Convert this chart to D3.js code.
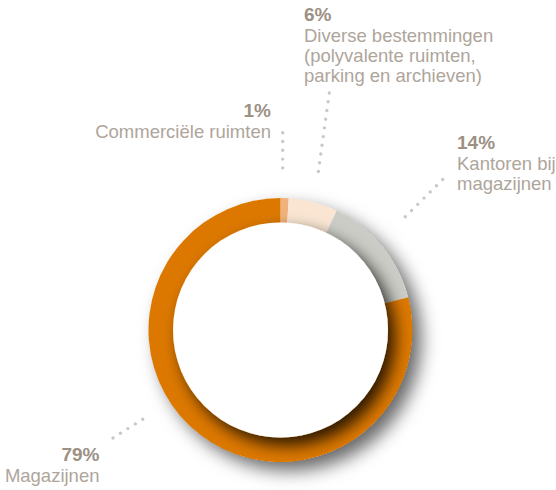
<!doctype html>
<html lang="nl">
<head>
<meta charset="utf-8">
<script src="https://d3js.org/d3.v7.min.js"></script>
<style>
  body { margin: 0; background: #fff; }
  svg { display: block; }
  .pct { font-family: "Liberation Sans", Arial, sans-serif; font-weight: bold; font-size: 19px; fill: #9c9184; }
  .lbl { font-family: "Liberation Sans", Arial, sans-serif; font-size: 18.5px; fill: #aea59b; }
  .lead { stroke: #cac8c4; stroke-width: 3.4; stroke-linecap: round; stroke-dasharray: 0 8.8; fill: none; }
</style>
</head>
<body>
<svg id="chart" width="556" height="490"></svg>
<script>
// data
const categories = ["Commerciële ruimten", "Diverse bestemmingen", "Kantoren bij magazijnen", "Magazijnen"];
const values = [1, 6, 14, 79];
const labelLines = [
  ["Commerciële ruimten"],
  ["Diverse bestemmingen", "(polyvalente ruimten,", "parking en archieven)"],
  ["Kantoren bij", "magazijnen"],
  ["Magazijnen"]
];
const colors = ["#f0b27c", "#f9e5d2", "#cbccc5", "#dc7800"];

// label placement (layout only)
const labelPos = [
  {x: 271, y: 116.5, anchor: "end",   lead: [[282.7, 132.7], [282.7, 176.7]]},
  {x: 304, y: 21,    anchor: "start", lead: [[329.3, 93], [317.3, 179]]},
  {x: 457, y: 149,   anchor: "start", lead: [[442.7, 179.5], [400, 222]]},
  {x: 99.5, y: 461,  anchor: "end",   lead: [[113, 438], [146.7, 416.7]]}
];

const svg = d3.select("#chart");
const cx = 280.5, cy = 330, rOuter = 132, rInner = 107.5;

const defs = svg.append("defs");
defs.append("filter").attr("id", "ringShadow")
  .attr("x", "-30%").attr("y", "-30%").attr("width", "160%").attr("height", "160%")
  .append("feDropShadow").attr("dx", 9).attr("dy", 9).attr("stdDeviation", 9)
  .attr("flood-color", "#000").attr("flood-opacity", 0.6);
defs.append("filter").attr("id", "discShadow")
  .attr("x", "-30%").attr("y", "-30%").attr("width", "160%").attr("height", "160%")
  .append("feDropShadow").attr("dx", 7).attr("dy", 8).attr("stdDeviation", 8)
  .attr("flood-color", "#000").attr("flood-opacity", 0.8);
defs.append("clipPath").attr("id", "ringClip")
  .append("circle").attr("r", rOuter);

const pie = d3.pie().sort(null).value(d => d);
const arc = d3.arc().innerRadius(rInner - 6).outerRadius(rOuter);

const g = svg.append("g").attr("transform", "translate(" + cx + "," + cy + ")");

// solid backing disc that throws the outer shadow
g.append("circle").attr("r", rOuter - 0.5)
  .attr("fill", "#fff")
  .attr("filter", "url(#ringShadow)");

g.append("g")
  .selectAll("path").data(pie(values)).enter().append("path")
  .attr("d", arc)
  .attr("fill", (d, i) => colors[i]);

// white centre casting a shadow on the ring
g.append("g").attr("clip-path", "url(#ringClip)")
  .append("circle").attr("r", rInner)
  .attr("fill", "#fff")
  .attr("filter", "url(#discShadow)");

// leader lines
svg.selectAll("line.lead").data(labelPos).enter().append("line")
  .attr("class", "lead")
  .attr("x1", d => d.lead[0][0]).attr("y1", d => d.lead[0][1])
  .attr("x2", d => d.lead[1][0]).attr("y2", d => d.lead[1][1]);

// labels
labelPos.forEach((p, i) => {
  const t = svg.append("g").attr("text-anchor", p.anchor);
  t.append("text").attr("class", "pct").attr("x", p.x).attr("y", p.y).text(values[i] + "%");
  labelLines[i].forEach((line, j) => {
    t.append("text").attr("class", "lbl").attr("x", p.x).attr("y", p.y + 21 + j * 20).text(line);
  });
});
</script>
</body>
</html>
